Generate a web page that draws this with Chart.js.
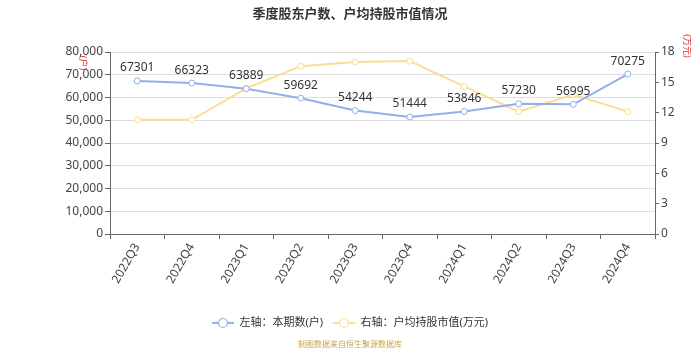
<!DOCTYPE html>
<html lang="zh-CN">

<head>
  <meta charset="UTF-8">
  <meta name="viewport" content="width=device-width, initial-scale=1.0">
  <title>季度股东户数、户均持股市值情况</title>
  <style>
    html, body { margin: 0; padding: 0; background: #fff; }
    .grafica { width: 700px; height: 350px; }
  </style>
</head>

<body>

  <div class="grafica">
    <canvas id="myChart" width="700" height="350"></canvas>
  </div>

  <script src="https://cdn.jsdelivr.net/npm/chart.js"></script>

  <script>
    // datos por trimestre
    const quarters = ['2022Q3', '2022Q4', '2023Q1', '2023Q2', '2023Q3', '2023Q4', '2024Q1', '2024Q2', '2024Q3', '2024Q4']
    const holders = [67301, 66323, 63889, 59692, 54244, 51444, 53846, 57230, 56995, 70275]
    const avgValue = [11.3, 11.3, 14.4, 16.6, 17.0, 17.1, 14.6, 12.1, 13.8, 12.1]
    const leftTicks = [0, 10000, 20000, 30000, 40000, 50000, 60000, 70000, 80000]
    const rightTicks = [0, 3, 6, 9, 12, 15, 18]

    const BLUE = '#8fb0e8'
    const YELLOW = '#fddc95'
    const FONT = "'Noto Sans', 'Noto Sans CJK SC', sans-serif"

    // icono de leyenda: linea con circulo hueco
    const legendIcon = ( color ) => {
      const c = document.createElement( 'canvas' )
      c.width = 22
      c.height = 12
      const ctx = c.getContext( '2d' )
      ctx.strokeStyle = color
      ctx.lineWidth = 2
      ctx.beginPath()
      ctx.moveTo( 0, 6 )
      ctx.lineTo( 22, 6 )
      ctx.stroke()
      ctx.beginPath()
      ctx.arc( 11, 6, 4.5, 0, Math.PI * 2 )
      ctx.fillStyle = '#fff'
      ctx.fill()
      ctx.lineWidth = 1.2
      ctx.stroke()
      return c
    }

    // etiquetas de valor sobre la serie azul y unidades de los ejes
    const extras = {
      id: 'extras',
      afterDatasetsDraw( chart ) {
        const ctx = chart.ctx
        const meta = chart.getDatasetMeta( 0 )
        ctx.save()
        ctx.font = '12px ' + FONT
        ctx.fillStyle = '#333'
        ctx.textAlign = 'center'
        ctx.textBaseline = 'middle'
        meta.data.forEach( ( pt, i ) => {
          ctx.fillText( String( holders[i] ), pt.x, pt.y - 13 )
        } )
        ctx.restore()

        ctx.save()
        ctx.font = '9px ' + FONT
        ctx.fillStyle = '#e03030'
        ctx.textAlign = 'center'
        ctx.textBaseline = 'middle'
        ctx.translate( 83, 63 )
        ctx.rotate( Math.PI / 2 )
        ctx.fillText( '(户)', 0, 0 )
        ctx.restore()

        ctx.save()
        ctx.font = '9px ' + FONT
        ctx.fillStyle = '#e03030'
        ctx.textAlign = 'center'
        ctx.textBaseline = 'middle'
        ctx.translate( 687, 46 )
        ctx.rotate( Math.PI / 2 )
        ctx.fillText( '(万元)', 0, 0 )
        ctx.restore()
      }
    }

    const datasets = [
      {
        label: '左轴：本期数(户)',
        data: holders,
        yAxisID: 'y',
        borderColor: BLUE,
        backgroundColor: '#fff',
        borderWidth: 2,
        pointRadius: 3,
        pointBorderWidth: 1,
        pointHoverRadius: 3,
        tension: 0
      },
      {
        label: '右轴：户均持股市值(万元)',
        data: avgValue,
        yAxisID: 'y1',
        borderColor: YELLOW,
        backgroundColor: '#fff',
        borderWidth: 2,
        pointRadius: 3,
        pointBorderWidth: 1,
        pointHoverRadius: 3,
        tension: 0
      }
    ]

    const config = {
      type: 'line',
      data: { labels: quarters, datasets },
      plugins: [extras],
      options: {
        responsive: false,
        animation: false,
        layout: { padding: { left: 0, right: 0, top: 0, bottom: 0 } },
        plugins: {
          title: {
            display: true,
            text: '季度股东户数、户均持股市值情况',
            color: '#333',
            font: { size: 13, weight: 'bold', family: FONT },
            padding: { top: 6, bottom: 30.4 }
          },
          subtitle: {
            display: true,
            position: 'bottom',
            text: '制图数据来自恒生聚源数据库',
            color: '#c9a54a',
            font: { size: 8, family: FONT },
            padding: { top: 2, bottom: 0 }
          },
          legend: {
            position: 'bottom',
            labels: {
              usePointStyle: true,
              pointStyleWidth: 22,
              boxHeight: 12,
              padding: 10,
              color: '#333',
              font: { size: 11, family: FONT },
              generateLabels( chart ) {
                return chart.data.datasets.map( ( ds, i ) => ( {
                  text: ds.label,
                  datasetIndex: i,
                  pointStyle: legendIcon( ds.borderColor ),
                  fontColor: '#333',
                  hidden: false,
                  lineWidth: 0
                } ) )
              }
            }
          },
          tooltip: { enabled: false }
        },
        scales: {
          x: {
            offset: true,
            grid: { display: true, drawOnChartArea: false, offset: true, tickLength: 5, tickColor: '#666' },
            border: { color: '#666' },
            ticks: {
              color: '#444',
              font: { size: 12, family: FONT },
              minRotation: 60,
              maxRotation: 60,
              autoSkip: false,
              padding: 2
            },
            afterFit( scale ) { scale.height = 73.4 }
          },
          y: {
            position: 'left',
            min: 0,
            max: 80000,
            afterBuildTicks( scale ) { scale.ticks = leftTicks.map( v => ( { value: v } ) ) },
            grid: { color: '#ddd', tickColor: '#666', tickLength: 5 },
            border: { color: '#666' },
            ticks: {
              color: '#444',
              font: { size: 12, family: FONT },
              padding: 2,
              callback: v => v.toLocaleString( 'en-US' )
            },
            afterFit( scale ) { scale.width = 110 }
          },
          y1: {
            position: 'right',
            min: 0,
            max: 18,
            afterBuildTicks( scale ) { scale.ticks = rightTicks.map( v => ( { value: v } ) ) },
            grid: { drawOnChartArea: false, tickColor: '#666', tickLength: 4 },
            border: { color: '#666' },
            ticks: {
              color: '#444',
              font: { size: 12, family: FONT },
              padding: 2
            },
            afterFit( scale ) { scale.width = 45 }
          }
        }
      }
    }

    new Chart( document.getElementById( 'myChart' ), config )
  </script>
</body>

</html>
